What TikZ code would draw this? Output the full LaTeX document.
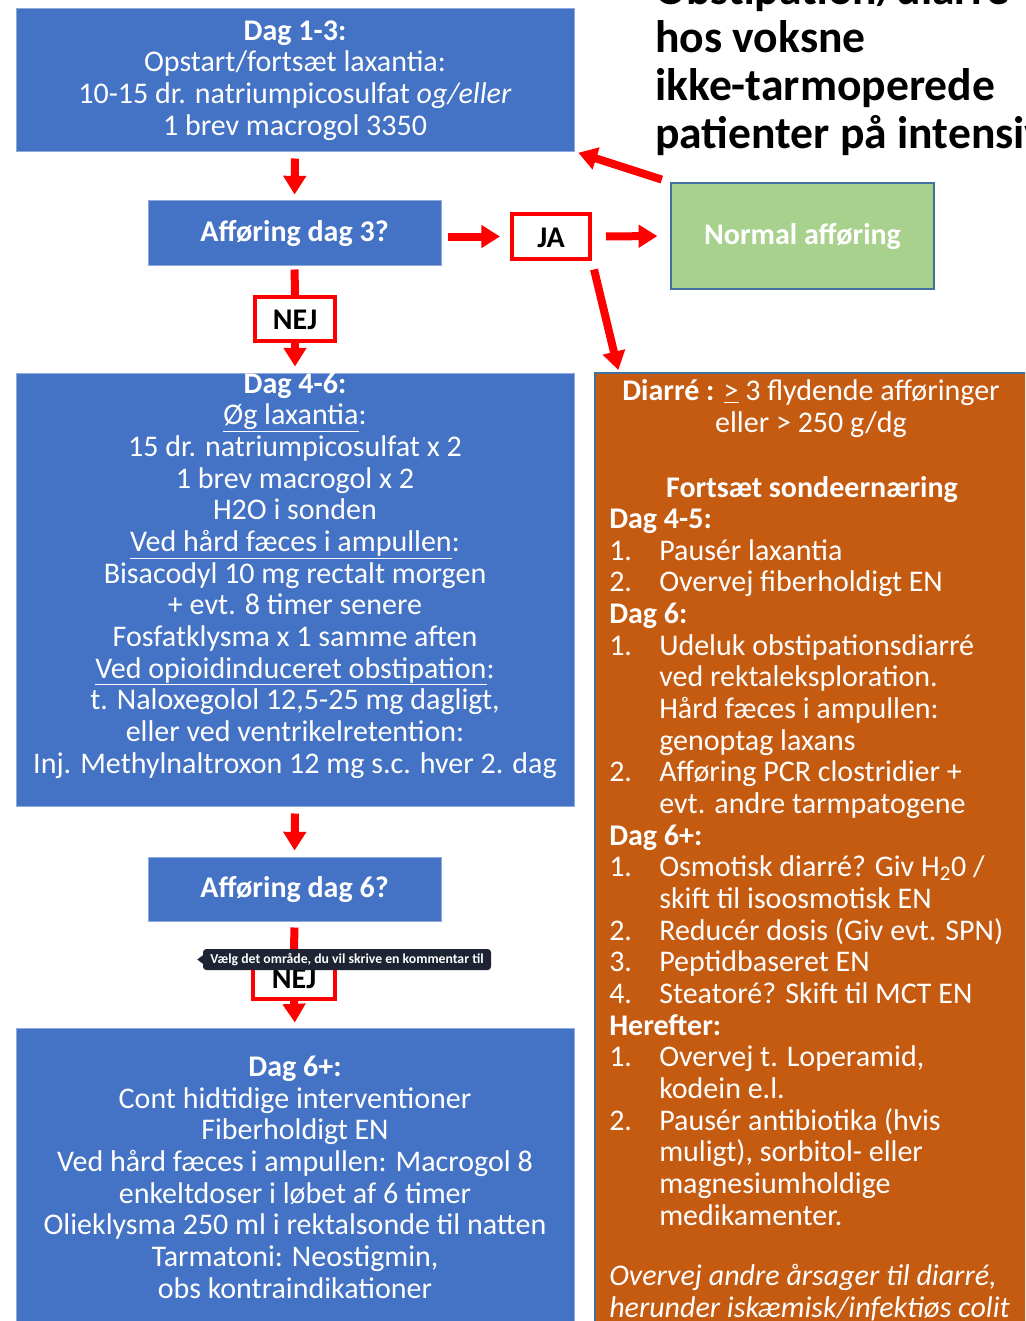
\documentclass[tikz,border=0pt]{standalone}
\usepackage{fontspec}
\usepackage{graphicx}
\setmainfont{Carlito}
\usetikzlibrary{arrows.meta,calc}
\definecolor{offblue}{HTML}{4472C4}
\definecolor{offblueline}{HTML}{8FAADC}
\definecolor{offorange}{HTML}{C55A11}
\definecolor{offgreen}{HTML}{A9D18E}
\definecolor{shapeline}{HTML}{41719C}
\definecolor{tipbg}{HTML}{1E2433}
\newcommand{\bodyfont}{\fontsize{22.5pt}{23.75pt}\selectfont}
\newcommand{\titlefont}{\fontsize{34.2pt}{36pt}\selectfont\bfseries}
\newcommand{\numb}[1]{\makebox[37.5pt][l]{#1}}
\newcommand{\indt}{\hspace*{37.5pt}}
\tikzset{
  wh/.style 2 args={minimum width=#1*0.75pt, minimum height=#2*0.75pt},
  bluebox/.style={draw=offblueline, line width=0.75pt, fill=offblue, inner sep=0pt, text=white, font=\bodyfont},
  onelabel/.style={text height=12.75pt, text depth=0pt},
  greenbox/.style={draw=shapeline, line width=1pt, fill=offgreen, inner sep=0pt, text=white, font=\bodyfont\bfseries, onelabel},
  orangebox/.style={draw=shapeline, line width=1pt, fill=offorange, inner sep=0pt},
  decision/.style={draw=red, line width=3pt, fill=white, inner sep=0pt, text=black, font=\bodyfont\bfseries, text height=16pt, text depth=0pt},
  btxt/.style={text=white, align=center, inner sep=0pt, font=\bodyfont},
  otxt/.style={text=white, align=left, inner sep=0pt, font=\bodyfont},
  redarrow/.style={draw=red, line width=6pt, -{Triangle[width=16.5pt,length=14pt]}},
  redline/.style={draw=red, line width=6pt},
  tooltip/.style={fill=tipbg, rounded corners=2.5pt, inner sep=0pt, text=white},
}
\begin{document}
\begin{tikzpicture}[x=0.75pt,y=-0.75pt]
\useasboundingbox (0,0) rectangle (1025,1321);
\clip (0,0) rectangle (1025,1321);
\fill[white] (0,0) rectangle (1025,1321);

% title (anchor base = baseline of last line)
\node[anchor=base west, align=left, inner sep=0pt, font=\titlefont] (title) at (655,148)
  {Obstipation/diarré\\hos voksne\\ikke-tarmoperede\\patienter på intensiv};

% boxes
\node[bluebox, wh={558}{143}] (d13) at (295,79.5) {};
\node[btxt, anchor=base] (t13) at (295,135) {\textbf{Dag 1-3:}\\Opstart/fortsæt laxantia:\\10-15 dr. natriumpicosulfat \textit{og/eller}\\1 brev macrogol 3350};

\node[bluebox, wh={293}{65}, font=\bodyfont\bfseries, onelabel] (aff3) at (294.5,232.5) {Afføring dag 3?};
\node[decision, wh={78}{45}] (ja) at (551,236.5) {JA};
\node[greenbox, wh={263}{106}] (normal) at (802.5,236) {Normal afføring};
\node[decision, wh={80}{44}] (nej1) at (295,319) {NEJ};

\node[bluebox, wh={558}{433}] (d46) at (295,589.5) {};
\node[btxt, anchor=base] (t46) at (295,773) {\textbf{Dag 4-6:}\\\underline{Øg laxantia}:\\15 dr. natriumpicosulfat x 2\\1 brev macrogol x 2\\H2O i sonden\\\underline{Ved hård fæces i ampullen}:\\Bisacodyl 10 mg rectalt morgen\\+ evt. 8 timer senere\\Fosfatklysma x 1 samme aften\\\underline{Ved opioidinduceret obstipation}:\\t. Naloxegolol 12,5-25 mg dagligt,\\eller ved ventrikelretention:\\Inj. Methylnaltroxon 12 mg s.c. hver 2. dag};

\node[bluebox, wh={293}{64}, font=\bodyfont\bfseries, onelabel] (aff6) at (294.5,889) {Afføring dag 6?};
\node[decision, wh={82}{43}] (nej2) at (294,977.5) {NEJ};

\node[bluebox, wh={558}{312}] (d6p) at (295,1184) {};
\node[btxt, anchor=base] (t6p) at (295,1298) {\textbf{Dag 6+:}\\Cont hidtidige interventioner\\Fiberholdigt EN\\Ved hård fæces i ampullen: Macrogol 8\\enkeltdoser i løbet af 6 timer\\Olieklysma 250 ml i rektalsonde til natten\\Tarmatoni: Neostigmin,\\obs kontraindikationer};

\node[orangebox, wh={445}{967}] (diar) at (817.5,856.5) {};
\node[btxt, anchor=base] (dhead) at (811,432.5) {\textbf{Diarré :} \underline{>} 3 flydende afføringer\\eller > 250 g/dg};
\node[btxt, anchor=base, font=\bodyfont\bfseries] (dsonde) at (812,497) {Fortsæt sondeernæring};
\node[otxt, anchor=base west] (dlist) at (609,1225) {\textbf{Dag 4-5:}\\
\numb{1.}Pausér laxantia\\
\numb{2.}Overvej fiberholdigt EN\\
\textbf{Dag 6:}\\
\numb{1.}Udeluk obstipationsdiarré\\
\indt ved rektaleksploration.\\
\indt Hård fæces i ampullen:\\
\indt genoptag laxans\\
\numb{2.}Afføring PCR clostridier +\\
\indt evt. andre tarmpatogene\\
\textbf{Dag 6+:}\\
\numb{1.}Osmotisk diarré? Giv H\textsubscript{2}0 /\\
\indt skift til isoosmotisk EN\\
\numb{2.}Reducér dosis (Giv evt. SPN)\\
\numb{3.}Peptidbaseret EN\\
\numb{4.}Steatoré? Skift til MCT EN\\
\textbf{Herefter:}\\
\numb{1.}Overvej t. Loperamid,\\
\indt kodein e.l.\\
\numb{2.}Pausér antibiotika (hvis\\
\indt muligt), sorbitol- eller\\
\indt magnesiumholdige\\
\indt medikamenter.};
\node[otxt, anchor=base west, font=\bodyfont\itshape] (dother) at (609,1317) {Overvej andre årsager til diarré,\\herunder iskæmisk/infektiøs colit};

\coordinate (dtop) at (619,373);

% connectors
\draw[redarrow, shorten <=5.25pt, shorten >=3.75pt] (d13.south) -- (aff3.north);
\draw[redarrow, shorten <=4.5pt, shorten >=7.5pt] (aff3.east |- ja.west) -- (ja.west);
\draw[redarrow, shorten <=10.5pt, shorten >=9.75pt] (ja.east) -- (normal.west);
\draw[redarrow, shorten <=6.75pt, shorten >=3pt] (normal.north west) -- (d13.south east);
\draw[redarrow, shorten <=6.5pt, shorten >=2.25pt] (ja.south east) -- (dtop);
\draw[redline, shorten <=3pt] (aff3.south) -- (nej1.north);
\draw[redarrow, shorten >=4.5pt] (nej1.south) -- (d46.north);
\draw[redarrow, shorten <=5.25pt, shorten >=4.5pt] (d46.south) -- (aff6.north);
\draw[redline, shorten <=4.5pt] (aff6.south) -- (nej2.north);
\draw[redarrow, shorten >=3.75pt] (nej2.south) -- (d6p.north);

% tooltip overlay
\node[tooltip, wh={288}{21}] (tip) at (347,959.5) {\resizebox{205pt}{!}{\bfseries Vælg det område, du vil skrive en kommentar til}};
\fill[tipbg] ($(tip.west)+(0.5,-4.5)$) -- ++(-6,4.5) -- ++(6,4.5) -- cycle;
\end{tikzpicture}
\end{document}
